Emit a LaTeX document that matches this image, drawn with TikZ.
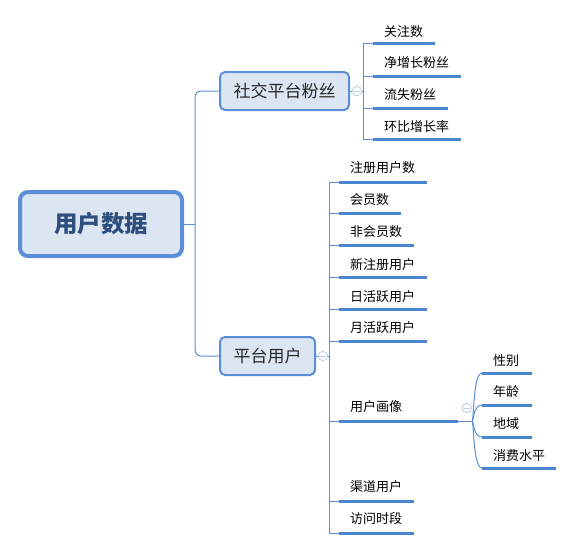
\documentclass[tikz,border=0pt]{standalone}
\usepackage{fontspec}
\newfontfamily\cjk{Noto Sans CJK SC}
\definecolor{lineblue}{HTML}{5B8ED6}
\definecolor{ulblue}{HTML}{4A86D0}
\definecolor{nodefill}{HTML}{DCE6F3}
\definecolor{roottext}{HTML}{2E4E7E}
\definecolor{foldc}{HTML}{B8CBEA}
\tikzset{
 rootbox/.style={draw=lineblue, line width=4pt, fill=nodefill, rounded corners=8pt, minimum width=162pt, minimum height=64pt, inner sep=0pt, font=\cjk\bfseries\fontsize{23.5}{27}\selectfont, text=roottext},
 topicbox/.style={draw=lineblue, line width=2pt, fill=nodefill, rounded corners=5pt, minimum height=38pt, inner sep=0pt, font=\cjk\fontsize{17}{20}\selectfont, text=black!85},
 leaftext/.style={anchor=west, inner sep=0pt, font=\cjk\fontsize{13}{15}\selectfont, text=black},
 conn/.style={draw=lineblue, line width=1pt},
 uline/.style={draw=ulblue, line width=3pt},
 fold/.style={circle, draw=foldc, fill=white, minimum size=9.5pt, inner sep=0pt, line width=0.8pt}
}
\begin{document}
\begin{tikzpicture}[x=1pt,y=-1pt]
\useasboundingbox (0,0) rectangle (575,550);

% root and topics
\node[rootbox] (root) at (101,224) {用户数据};
\node[topicbox, minimum width=129pt] (s1) at (284.5,91) {社交平台粉丝};
\node[topicbox, minimum width=95pt] (s2) at (267.5,356) {平台用户};
\coordinate (j0) at (195,224);
\coordinate (j0t) at (195,91);
\coordinate (j0b) at (195,356);
\draw[conn] (root.east) -- (j0);
\draw[conn, rounded corners=6pt] (s1.west) -- (j0t) -- (j0b) -- (s2.west);

% fold markers
\node[fold] (f1) at (357,91) {};
\node[fold] (f2) at (323,356) {};
\node[fold] (f3) at (467,408) {};
\foreach \f in {f1,f2,f3}{\draw[foldc, line width=0.8pt] ([xshift=2pt]\f.west) -- ([xshift=-2pt]\f.east);}

% social branch
\coordinate (v1) at (363,91);
\coordinate (v1t) at (363,43);
\coordinate (v1b) at (363,139);
\draw[conn] (s1.east) -- (f1.west);
\draw[conn] (f1.east) -- (v1);
\draw[conn] (v1t) -- (v1b);
\foreach \n/\y/\e/\ty/\t in {a1/43/435/32/关注数, a2/76/461/63/净增长粉丝, a3/108/448/95/流失粉丝, a4/139/461/127/环比增长率}{
  \coordinate (\n v) at (363,\y);
  \coordinate (\n s) at (373,\y);
  \coordinate (\n e) at (\e,\y);
  \draw[conn] (\n v) -- (\n s);
  \draw[uline] (\n s) -- (\n e);
  \node[leaftext] (\n t) at (384,\ty) {\t};
}

% platform branch
\coordinate (v2) at (329,356);
\coordinate (v2t) at (329,182);
\coordinate (v2b) at (329,533);
\draw[conn] (s2.east) -- (f2.west);
\draw[conn] (f2.east) -- (v2);
\draw[conn] (v2t) -- (v2b);
\foreach \n/\y/\e/\ty/\t in {b1/182/427/168/注册用户数, b2/213/401/200/会员数, b3/245/414/232/非会员数, b4/277/427/265/新注册用户, b5/309/427/297/日活跃用户, b6/341/427/328/月活跃用户, b7/421/458/407/用户画像, b8/501/414/487/渠道用户, b9/533/414/519/访问时段}{
  \coordinate (\n v) at (329,\y);
  \coordinate (\n s) at (339,\y);
  \coordinate (\n e) at (\e,\y);
  \draw[conn] (\n v) -- (\n s);
  \draw[uline] (\n s) -- (\n e);
  \node[leaftext] (\n t) at (350,\ty) {\t};
}

% portrait sub-branch
\coordinate (j3) at (472,421);
\draw[conn] (b7e) -- (j3);
\foreach \n/\y/\e/\ty/\t in {c1/373/532/361/性别, c2/405/532/392/年龄, c3/437/532/424/地域, c4/468/556/456/消费水平}{
  \coordinate (\n s) at (482,\y);
  \coordinate (\n e) at (\e,\y);
  \draw[conn] (j3) .. controls (474,421) and (473,\y) .. (\n s);
  \draw[uline] (\n s) -- (\n e);
  \node[leaftext] (\n t) at (493,\ty) {\t};
}
\end{tikzpicture}
\end{document}
